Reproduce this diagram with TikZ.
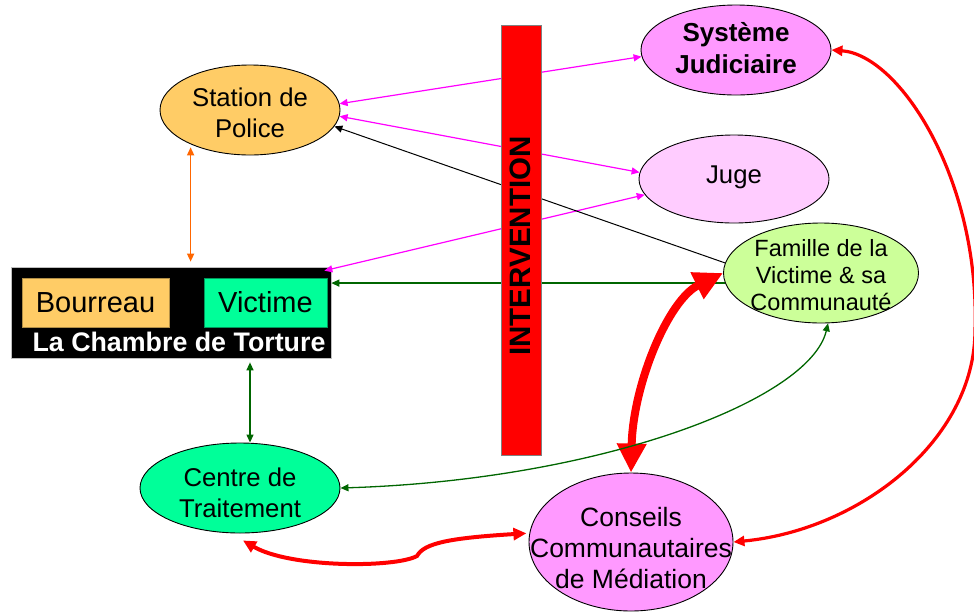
\documentclass[tikz,border=0pt]{standalone}
\usepackage{fontspec}
\setmainfont{Liberation Sans}
\usetikzlibrary{arrows.meta,shapes.geometric,calc}
\definecolor{cPolice}{HTML}{FFCC66}
\definecolor{cSys}{HTML}{FF99FF}
\definecolor{cJuge}{HTML}{FFCCFF}
\definecolor{cFam}{HTML}{CCFF99}
\definecolor{cCentre}{HTML}{00FF99}
\definecolor{cMag}{HTML}{FF00FF}
\definecolor{cGrn}{HTML}{006600}
\definecolor{cOrg}{HTML}{FF6600}
\definecolor{cRed}{HTML}{FF0000}
\begin{document}
\begin{tikzpicture}[x=1pt,y=-1pt,
  ell/.style={ellipse, draw=black, line width=0.9pt, inner sep=0pt},
  txt/.style={align=center, inner sep=0pt, font=\fontsize{25.7}{31}\selectfont},
  boxn/.style={rectangle, inner sep=0pt, line width=0.7pt},
  mag/.style={draw=cMag, line width=1.2pt, {Triangle[length=8pt,width=7pt]}-{Triangle[length=8pt,width=7pt]}},
  blk/.style={draw=black, line width=1pt, -{Triangle[length=8pt,width=7pt]}},
  grn/.style={draw=cGrn, line width=1.3pt},
  orng/.style={draw=cOrg, line width=1.5pt, {Triangle[length=8pt,width=7pt]}-{Triangle[length=8pt,width=7pt]}},
  redthick/.style={draw=cRed, line width=8pt, {Triangle[length=29pt,width=28pt]}-{Triangle[length=29pt,width=28pt]}},
  redarc/.style={draw=cRed, line width=3.2pt, {Triangle[length=11pt,width=10pt]}-{Triangle[length=11pt,width=10pt]}},
  redwave/.style={draw=cRed, line width=4pt, {Triangle[length=13pt,width=12pt]}-{Triangle[length=13pt,width=12pt]}}
]
\useasboundingbox (0,0) rectangle (974,611);

% ellipses
\node[ell, fill=cPolice, minimum width=180pt, minimum height=90pt] (police) at (250,110) {};
\node[ell, fill=cSys, minimum width=190pt, minimum height=90pt] (sys) at (736,50) {};
\node[ell, fill=cJuge, minimum width=190pt, minimum height=88pt] (juge) at (734,179) {};
\node[ell, fill=cFam, minimum width=195pt, minimum height=100pt] (famille) at (821,273) {};
\node[ell, fill=cCentre, minimum width=200pt, minimum height=90pt] (centre) at (240,488) {};
\node[ell, fill=cSys, minimum width=204pt, minimum height=138pt] (conseils) at (631,542) {};

\node[txt] (policeT) at (250,113) {Station de\\Police};
\node[txt, font=\bfseries\fontsize{26}{32}\selectfont] (sysT) at (736,48) {Système\\Judiciaire};
\node[txt] (jugeT) at (734,177) {Juge};
\node[txt, font=\fontsize{23.5}{27}\selectfont] (famT) at (821,275) {Famille de la\\Victime \& sa\\Communauté};
\node[txt] (centreT) at (240,493) {Centre de\\Traitement};
\node[txt, font=\fontsize{26.5}{31}\selectfont] (consT) at (631,548) {Conseils\\Communautaires\\de Médiation};

% torture chamber
\node[boxn, fill=black, draw=gray!50, minimum width=320pt, minimum height=91pt] (chamber) at (171,312.5) {};
\node[boxn, fill=cPolice, draw=cPolice!70!black, minimum width=147pt, minimum height=49pt, font=\fontsize{29}{34}\selectfont] (bourreau) at (95.5,302.5) {Bourreau};
\node[boxn, fill=cCentre, draw=cCentre!60!black, minimum width=123pt, minimum height=49pt, font=\fontsize{29}{34}\selectfont] (victime) at (265.5,302.5) {Victime};
\node[text=white, font=\bfseries\fontsize{26.8}{32}\selectfont, inner sep=0pt, anchor=base] (chamberT) at (179,351) {La Chambre de Torture};

% connectors
\draw[orng, shorten <=3pt, shorten >=5pt] (police.210) -- (police.210 |- chamber.north);
\draw[mag] (police.4) -- (sys.184);
\draw[mag] (police.-4) -- (juge.176);
\draw[mag] ($(chamber.north east)+(-7,4)$) -- (juge.190);
\draw[blk] (famille.174) -- (police.-11);
\draw[grn, -{Triangle[length=8pt,width=7pt]}] (famille.186) -- (famille.186 -| chamber.east);
\draw[grn, {Triangle[length=8pt,width=7pt]}-{Triangle[length=8pt,width=7pt]}, shorten >=4pt] ([xshift=10pt]centre.north) -- ([xshift=10pt]centre.north |- chamber.south);
\draw[redthick] (conseils.north) .. controls (633,385) and (668,300) .. (famille.west);
\draw[grn, {Triangle[length=8pt,width=7pt]}-{Triangle[length=8pt,width=7pt]}] (famille.-82) .. controls (810,400) and (600,480) .. (centre.east);
\draw[redarc] (sys.east) .. controls (900,55) and (980,180) .. (975,330) .. controls (975,440) and (860,530) .. (conseils.east);
\draw[redwave, shorten >=3pt] ($(centre.south)+(3,7)$) .. controls (290,568) and (395,568) .. (417,556) .. controls (424,543) and (450,538) .. (conseils.175);

% intervention bar
\node[boxn, fill=cRed, draw=gray, line width=1pt, minimum width=40pt, minimum height=430pt] (bar) at (521,240) {};
\node[rotate=90, font=\bfseries\fontsize{29.5}{35}\selectfont, inner sep=0pt] (barT) at (520,246) {INTERVENTION};
\end{tikzpicture}
\end{document}
